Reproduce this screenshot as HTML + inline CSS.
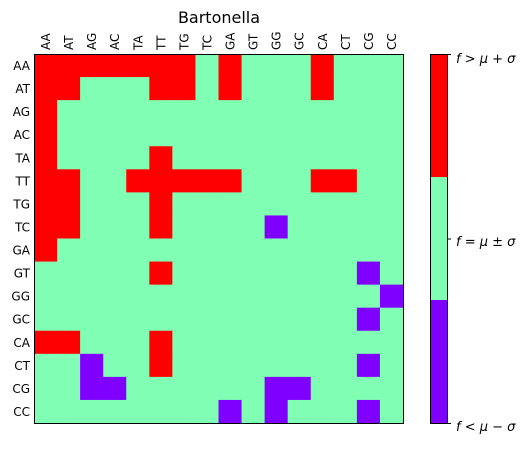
<!DOCTYPE html>
<html><head><meta charset="utf-8"><style>
body{margin:0;background:#fff;font-family:"Liberation Sans","DejaVu Sans",sans-serif}
svg text{font-family:"DejaVu Sans","Liberation Sans",sans-serif}
</style></head><body>
<svg id="chart" width="525" height="445" xmlns="http://www.w3.org/2000/svg">
<text x="219" y="23" text-anchor="middle" font-size="16">Bartonella</text>
<g id="cells"></g>
<g id="labels"></g>
<rect x="34.5" y="54.5" width="369" height="369" fill="none" stroke="#000" stroke-width="1"/>
<g>
<rect x="430" y="54" width="17" height="123" fill="#ff0000"/>
<rect x="430" y="177" width="17" height="123" fill="#80ffb4"/>
<rect x="430" y="300" width="17" height="123" fill="#8000ff"/>
<rect x="430.5" y="54.5" width="17" height="369" fill="none" stroke="#000"/>
<line x1="447" y1="54.5" x2="451" y2="54.5" stroke="#000"/>
<line x1="447" y1="239" x2="451" y2="239" stroke="#000"/>
<line x1="447" y1="423.5" x2="451" y2="423.5" stroke="#000"/>
<text x="456" y="63" font-size="13" font-style="italic">f &gt; μ + σ</text>
<text x="456" y="246" font-size="13" font-style="italic">f = μ ± σ</text>
<text x="456" y="431" font-size="13" font-style="italic">f &lt; μ − σ</text>
</g>
</svg>
<script>
const categories=["AA","AT","AG","AC","TA","TT","TG","TC","GA","GT","GG","GC","CA","CT","CG","CC"];
const values=[
[1,1,1,1,1,1,1,0,1,0,0,0,1,0,0,0],
[1,1,0,0,0,1,1,0,1,0,0,0,1,0,0,0],
[1,0,0,0,0,0,0,0,0,0,0,0,0,0,0,0],
[1,0,0,0,0,0,0,0,0,0,0,0,0,0,0,0],
[1,0,0,0,0,1,0,0,0,0,0,0,0,0,0,0],
[1,1,0,0,1,1,1,1,1,0,0,0,1,1,0,0],
[1,1,0,0,0,1,0,0,0,0,0,0,0,0,0,0],
[1,1,0,0,0,1,0,0,0,0,-1,0,0,0,0,0],
[1,0,0,0,0,0,0,0,0,0,0,0,0,0,0,0],
[0,0,0,0,0,1,0,0,0,0,0,0,0,0,-1,0],
[0,0,0,0,0,0,0,0,0,0,0,0,0,0,0,-1],
[0,0,0,0,0,0,0,0,0,0,0,0,0,0,-1,0],
[1,1,0,0,0,1,0,0,0,0,0,0,0,0,0,0],
[0,0,-1,0,0,1,0,0,0,0,0,0,0,0,-1,0],
[0,0,-1,-1,0,0,0,0,0,0,-1,-1,0,0,0,0],
[0,0,0,0,0,0,0,0,-1,0,-1,0,0,0,-1,0]
];
const colorMap={"1":"#ff0000","0":"#80ffb4","-1":"#8000ff"};
const X0=34,Y0=54,W=369,n=categories.length,cw=W/n;
const xs=i=>X0+i*cw, ys=j=>Y0+j*cw;
const NS="http://www.w3.org/2000/svg";
const cg=document.getElementById('cells'),lg=document.getElementById('labels');
values.forEach((row,r)=>row.forEach((v,c)=>{
 const el=document.createElementNS(NS,'rect');
 el.setAttribute('x',xs(c));el.setAttribute('y',ys(r));
 el.setAttribute('width',cw+0.5);el.setAttribute('height',cw+0.5);
 el.setAttribute('fill',colorMap[String(v)]);
 
 
 cg.appendChild(el);
}));
categories.forEach((lab,i)=>{
 const t=document.createElementNS(NS,'text');
 t.setAttribute('x',30);t.setAttribute('y',ys(i)+cw/2+4.5);
 t.setAttribute('text-anchor','end');t.setAttribute('font-size','12');
 t.textContent=lab;
 
 
 lg.appendChild(t);
 const u=document.createElementNS(NS,'text');
 const cx=xs(i)+cw/2+4.5;
 u.setAttribute('transform','translate('+cx+',50) rotate(-90)');
 u.setAttribute('font-size','12');
 u.textContent=lab;
 
 
 lg.appendChild(u);
});
</script>
</body></html>
